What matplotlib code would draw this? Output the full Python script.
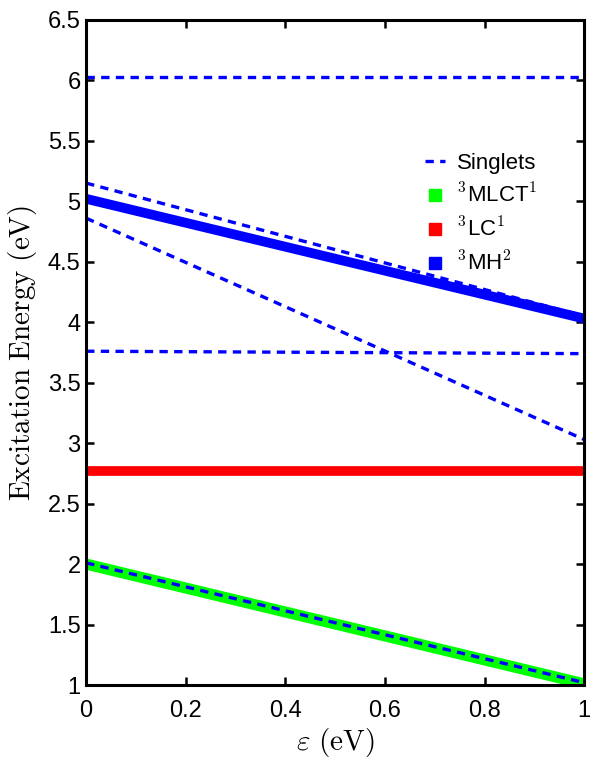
import matplotlib
matplotlib.use("Agg")
import matplotlib.pyplot as plt
from matplotlib.lines import Line2D

plt.rcParams['font.family'] = ['Liberation Sans', 'DejaVu Sans']
plt.rcParams['mathtext.fontset'] = 'cm'

# singlet states (dashed)
singlet_x = [0, 1]
singlet_top = [6.03, 6.03]
singlet_a = [5.15, 4.05]
singlet_b = [4.86, 3.03]
singlet_c = [3.76, 3.74]
singlet_d = [2.01, 1.02]

# triplet states (thick)
mlct_x = [0, 1]
mlct_y = [2.00, 1.01]
lc_y = [2.77, 2.77]
mh_y = [5.02, 4.03]

fig = plt.figure(figsize=(5.9, 7.62), dpi=100)
ax = fig.add_axes([0.146, 0.101, 0.844, 0.873])

ax.plot(mlct_x, mlct_y, color='#00ff00', lw=8, solid_capstyle='round')
ax.plot(mlct_x, lc_y, color='#ff0000', lw=7)
ax.plot(mlct_x, mh_y, color='#0000ff', lw=7, solid_capstyle='round')

dash = dict(color='#0000ff', lw=2.4, dashes=(2.5, 1.9))
for ys in [singlet_top, singlet_a, singlet_b, singlet_c, singlet_d]:
    ax.plot(singlet_x, ys, **dash)

ax.set_xlim(0, 1)
ax.set_ylim(1, 6.5)
ax.set_xticks([0, 0.2, 0.4, 0.6, 0.8, 1])
ax.set_xticklabels(['0', '0.2', '0.4', '0.6', '0.8', '1'])
ax.set_yticks([1, 1.5, 2, 2.5, 3, 3.5, 4, 4.5, 5, 5.5, 6, 6.5])
ax.set_yticklabels(['1', '1.5', '2', '2.5', '3', '3.5', '4', '4.5', '5', '5.5', '6', '6.5'])
ax.tick_params(direction='in', length=6, width=1.8, labelsize=17, top=True, right=True)
ax.tick_params(axis='x', pad=11)
ax.tick_params(axis='y', pad=4)
for s in ax.spines.values():
    s.set_linewidth(2.2)

ax.set_xlabel(r'$\varepsilon\ \mathrm{(eV)}$', fontsize=21, labelpad=3)
ax.set_ylabel(r'$\mathrm{Excitation\ Energy\ (eV)}$', fontsize=21, labelpad=6)

handles = [
    Line2D([0], [0], color='#0000ff', lw=2.4, dashes=(2.5, 1.9)),
    Line2D([0], [0], ls='none', marker='s', ms=9, color='#00ff00'),
    Line2D([0], [0], ls='none', marker='s', ms=9, color='#ff0000'),
    Line2D([0], [0], ls='none', marker='s', ms=9, color='#0000ff'),
]
labels = ['Singlets', r'$^{\mathsf{3}}$MLCT$^{\mathsf{1}}$',
          r'$^{\mathsf{3}}$LC$^{\mathsf{1}}$', r'$^{\mathsf{3}}$MH$^{\mathsf{2}}$']
ax.legend(handles, labels, loc='upper left', bbox_to_anchor=(0.68, 0.80),
          frameon=False, fontsize=16, handlelength=0.9, labelspacing=0.45,
          handletextpad=0.55, borderpad=0, borderaxespad=0)

fig.savefig('out.png', dpi=100)
